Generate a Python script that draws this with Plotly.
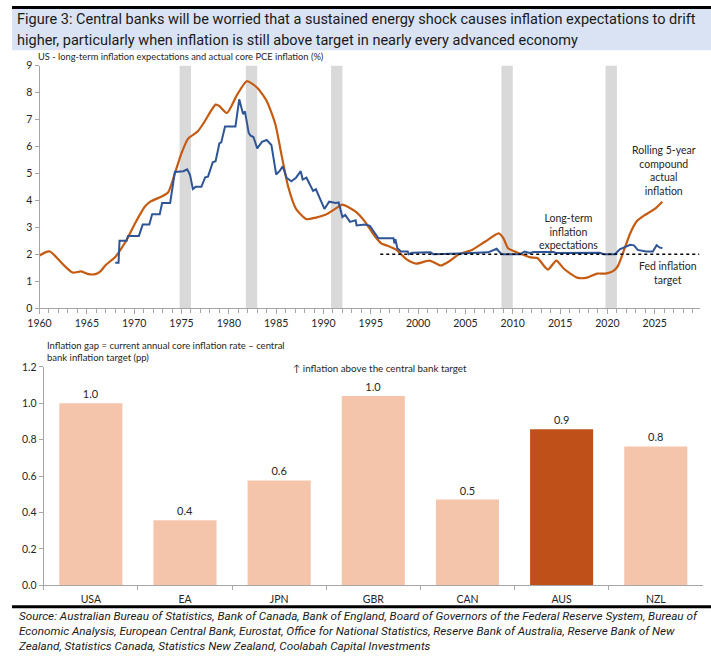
import plotly.graph_objects as go

# ── Top chart data: US inflation expectations vs 5y rolling core PCE ──
pce_years = [1960.0, 1960.5, 1961.1, 1961.8, 1962.6, 1963.5, 1964.4, 1965.2, 1965.9, 1966.4,
             1967.0, 1968.0, 1969.1, 1970.1, 1971.1, 1971.7, 1972.9, 1973.6, 1974.3, 1975.0,
             1975.7, 1976.7, 1977.4, 1978.6, 1979.0, 1979.8, 1980.9, 1981.9, 1983.0, 1984.0,
             1984.9, 1985.6, 1986.25, 1987.1, 1988.2, 1989.2, 1990.2, 1991.3, 1992.0, 1993.4,
             1994.4, 1995.1, 1995.6, 1996.1, 1996.7, 1997.7, 1998.75, 1999.8, 2001.2, 2002.4,
             2003.3, 2004.3, 2005.7, 2007.1, 2008.5, 2009.0, 2009.5, 2010.2, 2011.25, 2011.9,
             2012.6, 2013.7, 2014.6, 2015.4, 2016.8, 2017.85, 2018.9, 2019.8, 2020.6, 2021.1,
             2021.7, 2022.4, 2023.1, 2023.9, 2025.0, 2025.8]
pce_values = [1.95, 2.05, 2.10, 1.88, 1.58, 1.32, 1.36, 1.26, 1.26, 1.35,
              1.60, 1.90, 2.47, 3.15, 3.75, 3.95, 4.14, 4.30, 5.00, 5.75,
              6.29, 6.55, 6.90, 7.55, 7.50, 7.24, 7.93, 8.42, 8.18, 7.69,
              6.84, 5.63, 4.53, 3.68, 3.30, 3.36, 3.46, 3.70, 3.84, 3.58,
              3.20, 2.83, 2.59, 2.40, 2.32, 2.16, 1.82, 1.65, 1.76, 1.58,
              1.74, 2.00, 2.16, 2.47, 2.77, 2.60, 2.22, 2.10, 1.96, 1.88,
              1.86, 1.43, 1.76, 1.46, 1.13, 1.13, 1.28, 1.28, 1.37, 1.56,
              2.10, 2.77, 3.22, 3.44, 3.68, 3.95]

exp_years = [1968.0, 1968.35, 1968.45, 1969.2, 1969.35, 1970.5, 1970.9, 1971.6, 1971.9, 1972.7,
             1972.95, 1973.8, 1974.3, 1975.2, 1975.6, 1975.9, 1976.2, 1976.5, 1977.1, 1977.5,
             1977.8, 1978.3, 1978.6, 1979.0, 1979.2, 1979.6, 1980.7, 1981.1, 1981.5, 1981.7,
             1982.1, 1982.3, 1982.6, 1983.0, 1983.5, 1984.0, 1984.5, 1985.0, 1985.4, 1985.7,
             1986.1, 1986.6, 1987.1, 1987.6, 1987.8, 1988.2, 1988.9, 1989.2, 1990.1, 1990.6,
             1991.3, 1991.6, 1992.0, 1992.3, 1992.8, 1993.4, 1993.5, 1994.4, 1994.9, 1995.2,
             1995.8, 1997.4, 1997.5, 1997.6, 1997.8, 1998.2, 1998.9, 1999.0, 1999.4, 2001.3,
             2001.6, 2004.3, 2007.4, 2008.3, 2008.8, 2010.8, 2011.25, 2011.8, 2012.2, 2014.3,
             2014.6, 2019.2, 2019.6, 2020.8, 2021.3, 2022.4, 2022.8, 2023.2, 2023.7, 2024.1,
             2024.8, 2025.2, 2025.5, 2025.8]
exp_values = [1.68, 1.68, 2.50, 2.50, 2.68, 2.68, 3.10, 3.10, 3.48, 3.48,
              3.90, 3.90, 5.05, 5.08, 5.15, 4.95, 4.42, 4.50, 4.50, 4.85,
              4.88, 5.41, 5.45, 6.11, 6.15, 6.74, 6.74, 7.75, 7.20, 7.30,
              6.50, 6.40, 6.35, 5.93, 6.17, 6.24, 6.05, 4.96, 5.10, 5.26,
              4.84, 4.71, 4.84, 5.08, 4.77, 4.84, 4.35, 4.41, 3.68, 3.95,
              3.90, 3.92, 3.38, 3.46, 3.20, 3.26, 3.07, 3.10, 3.05, 2.89,
              2.59, 2.59, 2.40, 2.56, 2.22, 2.10, 2.10, 2.00, 2.05, 2.07,
              2.00, 2.03, 2.07, 2.20, 2.00, 2.00, 2.10, 2.05, 2.08, 2.08,
              2.04, 2.05, 2.00, 2.00, 2.18, 2.35, 2.33, 2.16, 2.13, 2.10,
              2.10, 2.33, 2.25, 2.22]

target_years = [1996.0, 2029.7]
target_values = [2.0, 2.0]

recession_start = [1974.8, 1981.8, 1990.8, 2008.8, 2019.8]
recession_end = [1976.0, 1983.0, 1992.0, 2010.0, 2021.0]

# ── Bottom chart data: inflation gap by economy ──
countries = ["USA", "EA", "JPN", "GBR", "CAN", "AUS", "NZL"]
inflation_gap = [1.0, 0.358, 0.576, 1.04, 0.471, 0.858, 0.763]
highlight = "AUS"

W, H = 711, 658
FONT = "Lato"
TXT = "#262626"
AXIS = "#a6a6a6"
ORANGE = "#c55a11"
BLUE = "#2f5597"


def px_x(p):
    return p / W


def px_y(p):
    return 1 - p / H


fig = go.Figure()

# ── Top: lines ───────────────────────────────────────────────────
fig.add_trace(go.Scatter(
    x=pce_years, y=pce_values, mode="lines",
    line={"color": ORANGE, "width": 2.2, "shape": "spline", "smoothing": 0.6},
    xaxis="x", yaxis="y", hoverinfo="x+y",
))
fig.add_trace(go.Scatter(
    x=exp_years, y=exp_values, mode="lines",
    line={"color": BLUE, "width": 2},
    xaxis="x", yaxis="y", hoverinfo="x+y",
))
fig.add_trace(go.Scatter(
    x=target_years, y=target_values, mode="lines",
    line={"color": "#000000", "width": 1.5, "dash": "dot"},
    xaxis="x", yaxis="y", hoverinfo="skip",
))

# ── Bottom: bars ─────────────────────────────────────────────────
bar_colors = ["#c0501a" if c == highlight else "#f4c4ab" for c in countries]
fig.add_trace(go.Bar(
    x=countries, y=inflation_gap,
    marker={"color": bar_colors, "line": {"width": 0}},
    texttemplate="%{y:.1f}", textposition="outside",
    textfont={"family": FONT, "size": 11, "color": TXT},
    cliponaxis=False,
    xaxis="x2", yaxis="y2",
))

shapes = []
for x0, x1 in zip(recession_start, recession_end):
    shapes.append(dict(type="rect", xref="x", yref="y", x0=x0, x1=x1, y0=0, y1=9,
                       fillcolor="#d9d9d9", line={"width": 0}, layer="below"))
# title band + rules
shapes.append(dict(type="rect", xref="paper", yref="paper", x0=0, x1=1,
                   y0=px_y(45), y1=1, fillcolor="#dae3f3", line={"width": 0}, layer="below"))
shapes.append(dict(type="line", xref="paper", yref="paper", x0=0, x1=1,
                   y0=px_y(1.5), y1=px_y(1.5), line={"color": "#000000", "width": 3}))
shapes.append(dict(type="line", xref="paper", yref="paper", x0=0, x1=1,
                   y0=px_y(612), y1=px_y(612), line={"color": "#000000", "width": 3}))

annotations = [
    dict(xref="paper", yref="paper", x=px_x(3), y=px_y(14), xanchor="left", yanchor="middle",
         text="Figure 3: Central banks will be worried that a sustained energy shock causes inflation expectations to drift",
         showarrow=False, font={"family": "Roboto", "size": 14.5, "color": "#1a1a1a"}),
    dict(xref="paper", yref="paper", x=px_x(3), y=px_y(35), xanchor="left", yanchor="middle",
         text="higher, particularly when inflation is still above target in nearly every advanced economy",
         showarrow=False, font={"family": "Roboto", "size": 14.5, "color": "#1a1a1a"}),
    dict(xref="paper", yref="paper", x=px_x(24), y=px_y(51), xanchor="left", yanchor="middle",
         text="US - long-term inflation expectations and actual core PCE inflation (%)",
         showarrow=False, font={"family": FONT, "size": 9.3, "color": TXT}),
    dict(xref="x", yref="y", x=2026.0, y=5.11, text="Rolling 5-year<br>compound<br>actual<br>inflation",
         showarrow=False, align="center", font={"family": FONT, "size": 10.5, "color": TXT}),
    dict(xref="x", yref="y", x=2015.9, y=2.84, text="Long-term<br>inflation<br>expectations",
         showarrow=False, align="center", font={"family": FONT, "size": 10.5, "color": TXT}),
    dict(xref="x", yref="y", x=2026.35, y=1.32, text="Fed inflation<br>target",
         showarrow=False, align="center", font={"family": FONT, "size": 10.5, "color": TXT}),
    dict(xref="paper", yref="paper", x=px_x(34), y=px_y(352), xanchor="left", yanchor="middle",
         text="Inflation gap = current annual core inflation rate \u2013 central<br>bank inflation target (pp)",
         showarrow=False, align="left", font={"family": FONT, "size": 9.5, "color": TXT}),
    dict(xref="paper", yref="paper", x=px_x(374), y=px_y(368.5), xanchor="center", yanchor="middle",
         text="\u2191 inflation above the central bank target",
         showarrow=False, font={"family": FONT, "size": 9.8, "color": TXT}),
    dict(xref="paper", yref="paper", x=px_x(4), y=px_y(637), xanchor="left", yanchor="middle",
         text=("<i>Source: Australian Bureau of Statistics, Bank of Canada, Bank of England, Board of Governors of the Federal Reserve System, Bureau of<br>"
               "Economic Analysis, European Central Bank, Eurostat, Office for National Statistics, Reserve Bank of Australia, Reserve Bank of New<br>"
               "Zealand, Statistics Canada, Statistics New Zealand, Coolabah Capital Investments</i>"),
         showarrow=False, align="left", font={"family": "Roboto", "size": 11.7, "color": "#1a1a1a"}),
]

fig.update_layout(
    width=W, height=H,
    margin={"l": 0, "r": 0, "t": 0, "b": 0},
    paper_bgcolor="#ffffff", plot_bgcolor="#ffffff",
    showlegend=False,
    font={"family": FONT, "size": 11, "color": TXT},
    bargap=0.33,
    shapes=shapes,
    annotations=annotations,
    xaxis=dict(
        domain=[px_x(28), px_x(700)], range=[1960, 2029.8],
        tick0=1960, dtick=5, ticks="outside", ticklen=5, tickcolor=AXIS,
        minor=dict(dtick=1, ticks="outside", ticklen=4, tickcolor=AXIS),
        showline=True, linecolor=AXIS, linewidth=1,
        showgrid=False, zeroline=False,
        tickfont={"family": FONT, "size": 10.5, "color": TXT},
        anchor="y",
    ),
    yaxis=dict(
        domain=[px_y(307.7), px_y(60.7)], range=[0, 9], dtick=1,
        ticks="outside", ticklen=4, tickcolor=AXIS,
        showline=True, linecolor=AXIS, linewidth=1,
        showgrid=False, zeroline=False,
        tickfont={"family": FONT, "size": 10.5, "color": TXT},
        anchor="x",
    ),
    xaxis2=dict(
        domain=[px_x(32.3), px_x(702.7)],
        ticks="outside", tickson="boundaries", ticklen=4, tickcolor=AXIS,
        ticklabelstandoff=4,
        showline=True, linecolor=AXIS, linewidth=1,
        showgrid=False, zeroline=False,
        tickfont={"family": FONT, "size": 10.5, "color": TXT},
        anchor="y2",
    ),
    yaxis2=dict(
        domain=[px_y(590), px_y(367.7)], range=[0, 1.2], dtick=0.2, tickformat=".1f",
        ticks="outside", ticklen=4, tickcolor=AXIS,
        showline=True, linecolor=AXIS, linewidth=1,
        showgrid=False, zeroline=False,
        tickfont={"family": FONT, "size": 10.5, "color": TXT},
        anchor="x2",
    ),
)

fig.write_html(
    "out.html",
    config={"displayModeBar": False},
    post_script="document.body.style.margin='0';document.body.style.overflow='hidden';",
)
